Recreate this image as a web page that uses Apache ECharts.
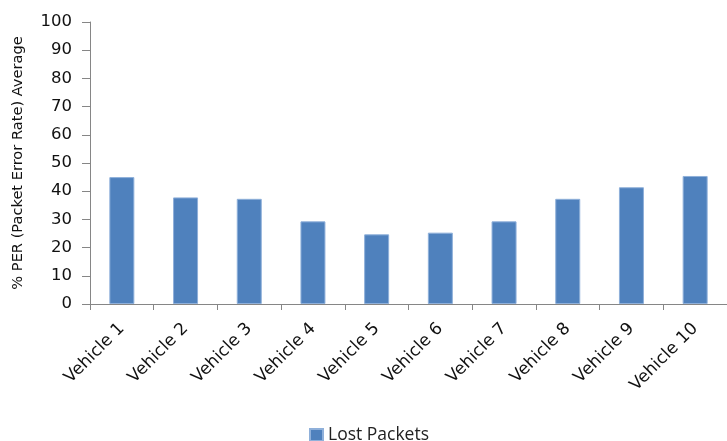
<!DOCTYPE html>
<html>
<head>
<meta charset="utf-8">
<script src="https://cdn.jsdelivr.net/npm/echarts@6/dist/echarts.min.js"></script>
<style>
  html, body { margin: 0; padding: 0; background: #fff; }
  #chart { width: 727px; height: 441px; }
</style>
</head>
<body>
<div id="chart"></div>
<script>
// Average packet error rate per vehicle
var categories = ['Vehicle 1', 'Vehicle 2', 'Vehicle 3', 'Vehicle 4', 'Vehicle 5',
                  'Vehicle 6', 'Vehicle 7', 'Vehicle 8', 'Vehicle 9', 'Vehicle 10'];
var lostPackets = [45, 37.8, 37.3, 29.3, 24.7, 25.3, 29.3, 37.3, 41.4, 45.4];
var seriesName = 'Lost Packets';
var yTitle = '% PER (Packet Error Rate) Average';

var axisGray = '#868686';
var chart = echarts.init(document.getElementById('chart'));
chart.setOption({
  animation: false,
  grid: { left: 90, right: -10, top: 22, bottom: 137 },
  legend: {
    top: 421,
    left: 304,
    itemWidth: 13,
    itemHeight: 12,
    itemGap: 6,
    icon: 'rect',
    textStyle: { fontFamily: 'Open Sans', fontSize: 17.5, color: '#222' },
    data: [seriesName]
  },
  xAxis: {
    type: 'category',
    data: categories,
    axisLine: { lineStyle: { color: axisGray, width: 1 } },
    axisTick: { show: true, alignWithLabel: false, length: 6, lineStyle: { color: axisGray } },
    axisLabel: {
      rotate: 45,
      interval: 0,
      margin: 22,
      fontFamily: 'DejaVu Sans',
      fontSize: 17,
      color: '#111'
    }
  },
  yAxis: {
    type: 'value',
    min: 0,
    max: 100,
    interval: 10,
    name: yTitle,
    nameLocation: 'middle',
    nameGap: 64,
    nameRotate: 90,
    nameTextStyle: { fontFamily: 'DejaVu Sans', fontSize: 14.6, color: '#111' },
    axisLine: { show: true, lineStyle: { color: axisGray, width: 1 } },
    axisTick: { show: true, length: 8, inside: false, lineStyle: { color: axisGray } },
    splitLine: { show: false },
    axisLabel: { fontFamily: 'DejaVu Sans', fontSize: 16.5, color: '#111', margin: 18 }
  },
  series: [{
    name: seriesName,
    type: 'bar',
    data: lostPackets,
    barWidth: 25,
    itemStyle: { color: '#4F81BD', borderColor: '#8fb0da', borderWidth: 1 }
  }]
});
</script>
</body>
</html>
